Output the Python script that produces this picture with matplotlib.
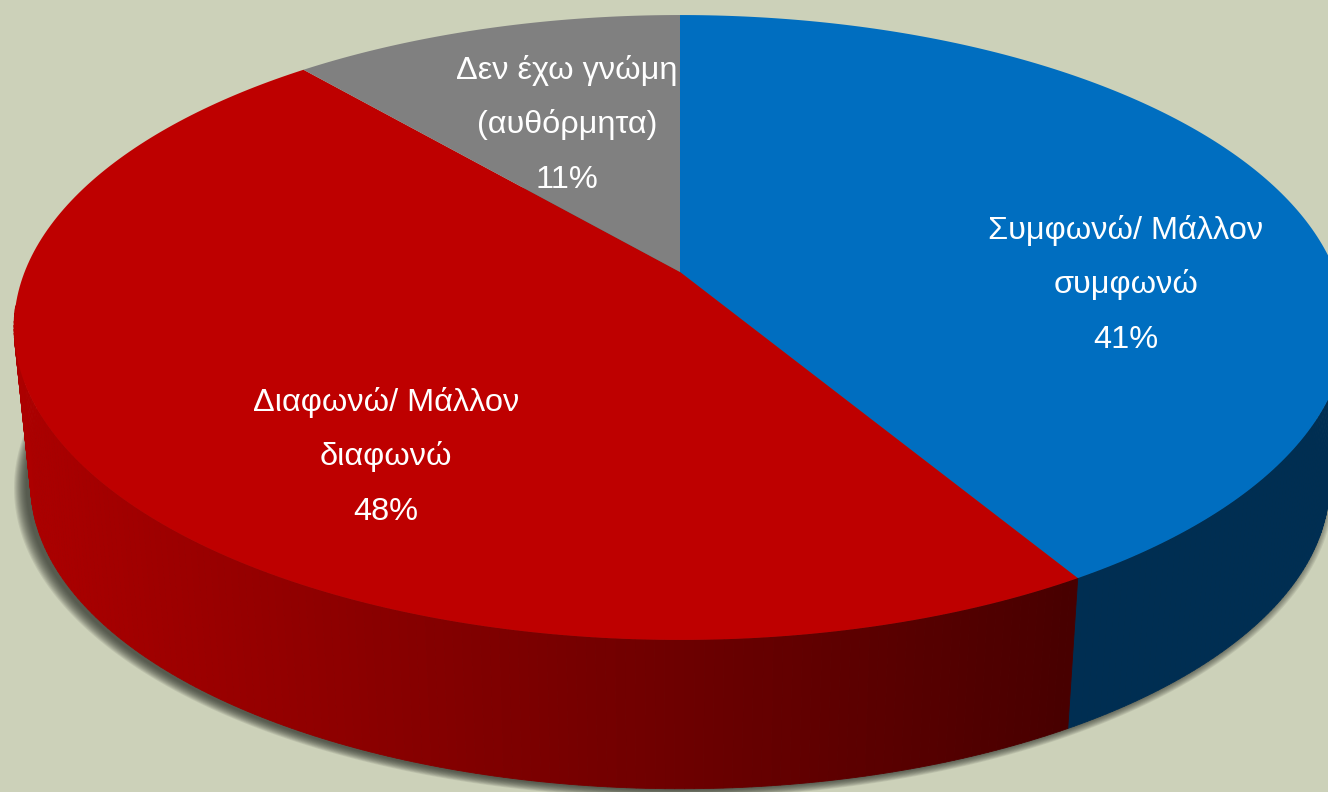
import numpy as np
import matplotlib.pyplot as plt
from matplotlib.colors import LinearSegmentedColormap

plt.rcParams['font.family'] = ['Liberation Sans', 'DejaVu Sans']

# Slices, clockwise from 12 o'clock
labels = ['Συμφωνώ/ Μάλλον\nσυμφωνώ', 'Διαφωνώ/ Μάλλον\nδιαφωνώ', 'Δεν έχω γνώμη\n(αυθόρμητα)']
percent_text = ['41%', '48%', '11%']
# slice sizes as measured on the picture (printed labels are rounded)
values = [41.4, 47.3, 11.3]
top_colors = ['#006EC0', '#BE0000', '#808080']
label_x = [1126, 386, 567]
label_y = [230, 402, 70]

BG = '#CCD1B9'

# Perspective of the disc in pixels
cx, cy = 680, 272
A, B, p = 302.6, 655.4, 0.1776
low_scale, low_shift = 0.975, 158


def rim(a, scale=1.0, shift=0.0, dx=0.0):
    # a = clockwise angle from the top, in radians
    w = 1 + p*np.cos(a)
    x = cx + dx + scale*B*np.sin(a)/w
    y = cy + shift - scale*A*np.cos(a)/w
    return np.column_stack([x, y])


fig = plt.figure(figsize=(13.28, 7.92), dpi=100, facecolor=BG)
ax = fig.add_axes([0, 0, 1, 1])
ax.set_xlim(0, 1328)
ax.set_ylim(792, 0)
ax.axis('off')

full = np.linspace(0, 2*np.pi, 400)

# soft shadow under the disc
for i in range(12):
    grow = 0.016 - i*0.0016
    ax.fill(*rim(full, low_scale + grow, low_shift + 3 - i*0.15, dx=-6).T,
            color='#30342C', alpha=0.1, lw=0, zorder=1)

edges = np.cumsum([0] + values)/np.sum(values)*2*np.pi
ramp = LinearSegmentedColormap.from_list('side', ['#AC0000', '#480000'])

# outer wall, one small quad per step so the silhouette stays closed
for i in range(2):
    a = np.linspace(edges[i], edges[i+1], 240)
    up = rim(a)
    low = rim(a, low_scale, low_shift)
    for k in range(len(a)-1):
        # back of the wall is hidden by the top face
        if np.cos(a[k]) > -0.12:
            continue
        quad = np.array([up[k], up[k+1], low[k+1], low[k]])
        col = '#002E52' if i == 0 else ramp((low[k, 0] - 30)/(1068 - 30))
        ax.fill(*quad.T, color=col, lw=0.6, zorder=2)

# top face
for i in range(len(values)):
    a = np.linspace(edges[i], edges[i+1], 200)
    pts = np.vstack([[cx, cy], rim(a)])
    ax.fill(*pts.T, color=top_colors[i], lw=0, zorder=3)

for i in range(len(values)):
    lines = labels[i].split('\n') + [percent_text[i]]
    for j, line in enumerate(lines):
        ax.text(label_x[i], label_y[i] + j*54.8, line, color='white', fontsize=23.4,
                ha='center', va='center', zorder=4)

fig.savefig('out.png', dpi=100, facecolor=BG)
